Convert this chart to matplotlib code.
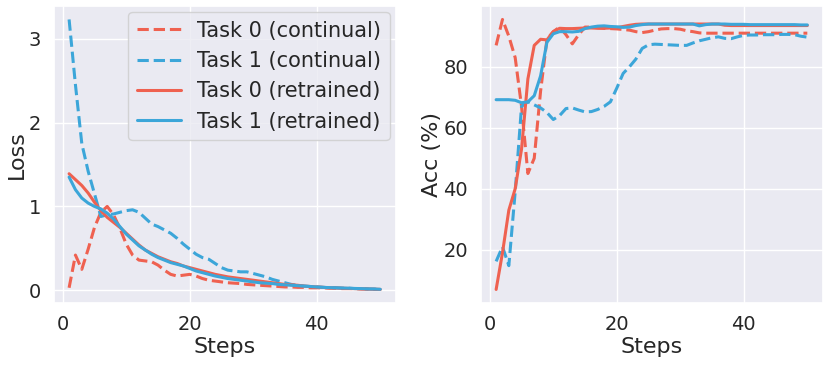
import matplotlib
matplotlib.use("Agg")
import matplotlib.pyplot as plt
import seaborn as sns
import numpy as np

steps = list(range(1, 51))

loss_t0_cont = [0.03, 0.42, 0.25, 0.49, 0.75, 0.93, 1.0, 0.9, 0.74, 0.55,
                0.42, 0.36, 0.35, 0.34, 0.30, 0.24, 0.19, 0.17, 0.18, 0.19,
                0.17, 0.14, 0.12, 0.11, 0.10, 0.09, 0.085, 0.08, 0.07, 0.065,
                0.06, 0.055, 0.05, 0.045, 0.04, 0.04, 0.035, 0.035, 0.03, 0.03,
                0.03, 0.025, 0.025, 0.02, 0.02, 0.02, 0.015, 0.015, 0.01, 0.01]
loss_t1_cont = [3.23, 2.45, 1.75, 1.42, 1.15, 0.88, 0.90, 0.91, 0.93, 0.95,
                0.96, 0.93, 0.86, 0.79, 0.76, 0.72, 0.68, 0.62, 0.55, 0.49,
                0.43, 0.39, 0.37, 0.32, 0.27, 0.24, 0.23, 0.22, 0.22, 0.20,
                0.18, 0.16, 0.13, 0.11, 0.09, 0.07, 0.06, 0.05, 0.045, 0.04,
                0.035, 0.03, 0.03, 0.025, 0.025, 0.02, 0.02, 0.015, 0.015, 0.01]
loss_t0_re = [1.39, 1.32, 1.25, 1.16, 1.05, 0.95, 0.87, 0.81, 0.75, 0.68,
              0.61, 0.54, 0.48, 0.44, 0.40, 0.37, 0.34, 0.32, 0.29, 0.27,
              0.25, 0.23, 0.21, 0.19, 0.175, 0.16, 0.15, 0.14, 0.13, 0.12,
              0.11, 0.10, 0.09, 0.08, 0.07, 0.065, 0.06, 0.05, 0.045, 0.04,
              0.035, 0.03, 0.028, 0.025, 0.022, 0.02, 0.018, 0.015, 0.013, 0.01]
loss_t1_re = [1.35, 1.20, 1.10, 1.04, 1.00, 0.97, 0.92, 0.85, 0.76, 0.67,
              0.60, 0.53, 0.48, 0.43, 0.39, 0.36, 0.33, 0.31, 0.29, 0.26,
              0.23, 0.21, 0.19, 0.17, 0.155, 0.14, 0.13, 0.12, 0.11, 0.10,
              0.09, 0.085, 0.08, 0.07, 0.065, 0.06, 0.055, 0.05, 0.045, 0.04,
              0.035, 0.032, 0.03, 0.027, 0.025, 0.022, 0.02, 0.017, 0.015, 0.012]

acc_t0_cont = [87, 95.5, 90, 83, 67, 45, 50, 72, 89, 91.5,
               93, 90.5, 87.5, 90.5, 93, 93, 92.8, 92.6, 92.5, 92.4,
               92.2, 92, 91.5, 91.2, 91.5, 92, 92.4, 92.5, 92.5, 92.3,
               91.8, 91.5, 91.1, 91, 91, 91, 91, 91, 91, 91,
               91, 91, 91, 91, 91, 91, 91, 91, 91, 91]
acc_t1_cont = [16.2, 21, 14.8, 39, 67, 68.5, 67.5, 66.5, 65, 62.7,
               64, 66.3, 66.5, 65.8, 65.2, 65.3, 66, 67, 68.5, 73,
               77.8, 80, 82.5, 86, 87.2, 87.4, 87.3, 87.2, 87.1, 87,
               87, 87.8, 88.5, 89, 89.5, 89.8, 89.3, 89.2, 89.8, 90.3,
               90.4, 90.4, 90.5, 90.5, 90.5, 90.6, 90.6, 90.5, 90, 89.7]
acc_t0_re = [7, 19, 33, 40, 53, 76, 87, 89, 88.8, 91.5,
             92.6, 92.5, 92.5, 92.6, 92.7, 92.7, 92.6, 92.6, 92.7, 92.8,
             93.2, 93.6, 93.9, 94, 94, 94, 94, 94, 94, 94,
             94, 94, 94, 94, 94, 94, 93.6, 93.5, 93.5, 93.5,
             93.5, 93.5, 93.5, 93.5, 93.5, 93.5, 93.5, 93.5, 93.5, 93.5]
acc_t1_re = [69.2, 69.2, 69.2, 69, 68.2, 68.5, 70.5, 77, 88, 90.8,
             91.5, 91.5, 91.4, 91.6, 92.5, 93, 93.3, 93.4, 93.2, 93.1,
             92.9, 93, 93.5, 93.8, 94, 94, 94, 94, 94, 94,
             94, 94, 93.4, 93.8, 94, 94, 94, 93.9, 93.9, 93.9,
             93.8, 93.8, 93.8, 93.8, 93.8, 93.8, 93.8, 93.8, 93.7, 93.7]

labels = ["Task 0 (continual)", "Task 1 (continual)",
          "Task 0 (retrained)", "Task 1 (retrained)"]

sns.set_theme(style="darkgrid")
plt.rcParams['font.family'] = ['DejaVu Sans']

RED = "#ef6150"
BLUE = "#3ca6d9"
LW = 2.2

fig = plt.figure(figsize=(8.3, 3.65), dpi=100)
ax1 = fig.add_axes([0.0645, 0.170, 0.4124, 0.8137])
ax2 = fig.add_axes([0.579, 0.170, 0.4124, 0.8137])

ax1.plot(steps, loss_t0_cont, color=RED, ls="--", lw=LW, label=labels[0])
ax1.plot(steps, loss_t1_cont, color=BLUE, ls="--", lw=LW, label=labels[1])
ax1.plot(steps, loss_t0_re, color=RED, ls="-", lw=LW, label=labels[2])
ax1.plot(steps, loss_t1_re, color=BLUE, ls="-", lw=LW, label=labels[3])

ax2.plot(steps, acc_t0_cont, color=RED, ls="--", lw=LW)
ax2.plot(steps, acc_t1_cont, color=BLUE, ls="--", lw=LW)
ax2.plot(steps, acc_t0_re, color=RED, ls="-", lw=LW)
ax2.plot(steps, acc_t1_re, color=BLUE, ls="-", lw=LW)

for ax in (ax1, ax2):
    ax.set_xlabel("Steps", fontsize=16, labelpad=2)
    ax.tick_params(labelsize=14, pad=3)
    ax.set_xticks([0, 20, 40])

ax1.set_ylabel("Loss", fontsize=16, labelpad=1)
ax2.set_ylabel("Acc (%)", fontsize=16, labelpad=1)
ax1.set_yticks([0, 1, 2, 3])
ax2.set_yticks([20, 40, 60, 80])

ax1.legend(loc="upper right", fontsize=15, handlelength=2.1,
           borderaxespad=0.3, labelspacing=0.5)

fig.savefig("out.png", dpi=100)
